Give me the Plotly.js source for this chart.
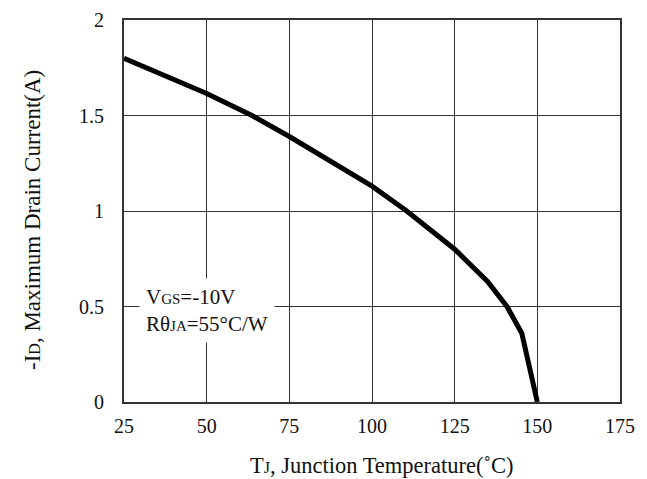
<!DOCTYPE html>
<html><head><meta charset="utf-8">
<script src="https://cdn.plot.ly/plotly-3.0.1.min.js"></script>
<style>body{margin:0;background:#fff}#c{width:647px;height:479px}</style>
</head><body><div id="c"></div>
<script>
const tempC = [25, 50, 63.7, 75, 100, 110.5, 125, 135, 140.8, 145.3, 150];
const currentA = [1.80, 1.615, 1.50, 1.39, 1.13, 1.00, 0.80, 0.63, 0.50, 0.36, 0];
const xTicks = [25, 50, 75, 100, 125, 150, 175];
const yTicks = [0, 0.5, 1, 1.5, 2];
const yTickText = ['0', '0.5', '1', '1.5', '2'];

const font = 'Liberation Serif, Times New Roman, serif';
Plotly.newPlot('c', [{
  x: tempC, y: currentA, mode: 'lines', line: {color: '#000', width: 5}, hoverinfo: 'none'
}], {
  width: 647, height: 479,
  margin: {l: 124, r: 27, t: 20, b: 77},
  paper_bgcolor: '#fff', plot_bgcolor: '#fff',
  showlegend: false,
  font: {family: font, color: '#000', size: 20},
  xaxis: {
    range: [25, 175], tickvals: xTicks, ticktext: xTicks.map(String),
    showgrid: true, gridcolor: '#333', gridwidth: 1,
    showline: true, linecolor: '#333', linewidth: 2, mirror: true,
    zeroline: false, ticks: '', ticklen: 0, ticklabelstandoff: 5,
    tickfont: {family: font, size: 20, color: '#111'}
  },
  yaxis: {
    range: [0, 2], tickvals: yTicks, ticktext: yTickText,
    showgrid: true, gridcolor: '#333', gridwidth: 1,
    showline: true, linecolor: '#333', linewidth: 2, mirror: true,
    zeroline: false, ticks: '', ticklen: 0, ticklabelstandoff: 14,
    tickfont: {family: font, size: 20, color: '#111'}
  },
  annotations: [
    {xref: 'x', yref: 'y', x: 50, y: 0.48, xanchor: 'center', yanchor: 'middle', align: 'left', showarrow: false,
     text: 'V<span style="font-size:15px">GS</span>=-10V<br>Rθ<span style="font-size:15px">JA</span>=55°C/W',
     font: {family: font, size: 21, color: '#111'}, bgcolor: '#fff', borderpad: 6},
    {xref: 'paper', yref: 'paper', x: 0.520, y: -0.165, xanchor: 'center', yanchor: 'middle', showarrow: false,
     text: 'T<span style="font-size:16px">J</span>, Junction Temperature(˚C)',
     font: {family: font, size: 22.5, color: '#111'}},
    {xref: 'paper', yref: 'paper', x: -0.1855, y: 0.4764, xanchor: 'center', yanchor: 'middle', showarrow: false, textangle: -90,
     text: '-I<span style="font-size:16px">D</span>, Maximum Drain Current(A)',
     font: {family: font, size: 23, color: '#111'}}
  ]
}, {staticPlot: true});
</script></body></html>
